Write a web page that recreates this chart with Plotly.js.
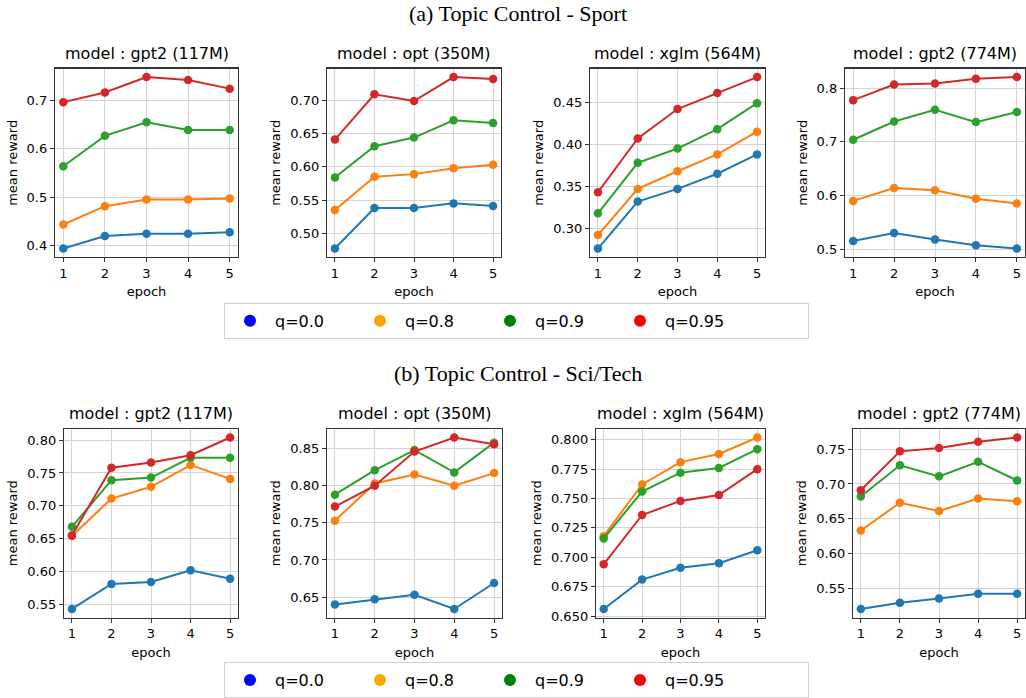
<!DOCTYPE html>
<html>
<head>
<meta charset="utf-8">
<script src="https://cdn.plot.ly/plotly-3.0.1.min.js"></script>
<style>html,body{margin:0;padding:0;background:#fff;}#chart{width:1026px;height:698px;}</style>
</head>
<body>
<div id="chart"></div>
<script>
// ---------- data ----------
const epochs = [1, 2, 3, 4, 5];
const qLabels = ['q=0.0', 'q=0.8', 'q=0.9', 'q=0.95'];
const lineColors = ['#1f77b4', '#ff7f0e', '#2ca02c', '#d62728'];
const legendColors = ['blue', 'orange', 'green', 'red'];
const modelTitles = ['model : gpt2 (117M)', 'model : opt (350M)', 'model : xglm (564M)', 'model : gpt2 (774M)'];
const sectionTitles = ['(a) Topic Control - Sport', '(b) Topic Control - Sci/Tech'];
const xLabel = 'epoch';
const yLabel = 'mean reward';

// (a) Sport — rows: q=0.0, q=0.8, q=0.9, q=0.95
const sportGpt2Small = [
  [0.393, 0.419, 0.424, 0.424, 0.427],
  [0.443, 0.481, 0.495, 0.495, 0.497],
  [0.564, 0.627, 0.655, 0.639, 0.639],
  [0.697, 0.717, 0.749, 0.743, 0.725]
];
const sportOpt = [
  [0.477, 0.538, 0.538, 0.545, 0.541],
  [0.535, 0.585, 0.589, 0.598, 0.603],
  [0.584, 0.631, 0.644, 0.670, 0.666],
  [0.641, 0.709, 0.699, 0.735, 0.732]
];
const sportXglm = [
  [0.276, 0.332, 0.347, 0.365, 0.388],
  [0.292, 0.347, 0.368, 0.388, 0.415],
  [0.318, 0.378, 0.395, 0.418, 0.449],
  [0.343, 0.407, 0.442, 0.461, 0.480]
];
const sportGpt2Large = [
  [0.515, 0.530, 0.518, 0.507, 0.501],
  [0.590, 0.614, 0.610, 0.594, 0.585],
  [0.704, 0.738, 0.760, 0.737, 0.756],
  [0.778, 0.807, 0.809, 0.818, 0.821]
];
// (b) Sci/Tech
const sciGpt2Small = [
  [0.543, 0.581, 0.584, 0.602, 0.589],
  [0.654, 0.711, 0.729, 0.762, 0.741],
  [0.668, 0.739, 0.743, 0.773, 0.773],
  [0.655, 0.758, 0.766, 0.777, 0.804]
];
const sciOpt = [
  [0.640, 0.647, 0.653, 0.634, 0.669],
  [0.753, 0.803, 0.815, 0.800, 0.817],
  [0.788, 0.821, 0.848, 0.818, 0.858],
  [0.772, 0.800, 0.846, 0.865, 0.856]
];
const sciXglm = [
  [0.656, 0.681, 0.691, 0.695, 0.706],
  [0.718, 0.762, 0.781, 0.788, 0.802],
  [0.716, 0.756, 0.772, 0.776, 0.792],
  [0.694, 0.736, 0.748, 0.753, 0.775]
];
const sciGpt2Large = [
  [0.520, 0.529, 0.535, 0.542, 0.542],
  [0.633, 0.673, 0.661, 0.679, 0.675],
  [0.682, 0.727, 0.711, 0.732, 0.705],
  [0.691, 0.747, 0.752, 0.761, 0.767]
];

const panelData = [sportGpt2Small, sportOpt, sportXglm, sportGpt2Large,
                   sciGpt2Small, sciOpt, sciXglm, sciGpt2Large];

// ---------- layout settings (pixels) ----------
const W = 1026, H = 698;
const panelX = [[55, 238], [327, 501], [590, 765], [845, 1025],
                [64, 238], [327, 502], [596, 765], [853, 1025]];
const rowY = [[69, 259], [432, 622]];
const dticks = [0.1, 0.05, 0.05, 0.1, 0.05, 0.05, 0.025, 0.05];
const tfmts = ['.1f', '.2f', '.2f', '.1f', '.2f', '.2f', '.3f', '.2f'];

const px = v => v / W;
const py = v => 1 - v / H;

const traces = [];
const layout = {
  width: W, height: H,
  margin: {l: 0, r: 0, t: 0, b: 0},
  paper_bgcolor: '#fff', plot_bgcolor: '#fff',
  font: {family: 'DejaVu Sans', size: 13, color: '#000'},
  showlegend: true,
  annotations: [],
  hovermode: false
};

panelData.forEach((series, p) => {
  const row = p < 4 ? 0 : 1;
  const ax = p + 1;
  const xa = 'x' + (ax === 1 ? '' : ax);
  const ya = 'y' + (ax === 1 ? '' : ax);
  const all = series.flat();
  const mn = Math.min(...all), mx = Math.max(...all);
  const pad = (mx - mn) * 0.05;
  series.forEach((vals, i) => {
    traces.push({
      x: epochs, y: vals, xaxis: xa, yaxis: ya,
      type: 'scatter', mode: 'lines+markers',
      line: {color: lineColors[i], width: 2},
      marker: {color: lineColors[i], size: 8.5},
      showlegend: false, name: qLabels[i]
    });
  });
  const common = {
    showline: true, mirror: true, linecolor: '#333', linewidth: 1.2,
    ticks: 'outside', ticklen: 4, tickcolor: '#333', tickwidth: 1,
    showgrid: true, gridcolor: '#d4d4d4', gridwidth: 1,
    zeroline: false,
    tickfont: {family: 'DejaVu Sans', size: 13, color: '#000'}
  };
  layout['xaxis' + (ax === 1 ? '' : ax)] = Object.assign({}, common, {
    domain: [px(panelX[p][0]), px(panelX[p][1])],
    anchor: ya, range: [0.8, 5.2], tickmode: 'array', tickvals: epochs,
    ticktext: epochs.map(String),
    title: {text: xLabel, font: {size: 13, family: 'DejaVu Sans'}, standoff: 7}
  });
  layout['yaxis' + (ax === 1 ? '' : ax)] = Object.assign({}, common, {
    domain: [py(rowY[row][1]), py(rowY[row][0])],
    anchor: xa, range: [mn - pad, mx + pad],
    tick0: 0, dtick: dticks[p], tickformat: tfmts[p],
    title: {text: yLabel, font: {size: 13, family: 'DejaVu Sans'}, standoff: 6}
  });
  layout.annotations.push({
    text: modelTitles[p % 4], xref: 'paper', yref: 'paper',
    x: px((panelX[p][0] + panelX[p][1]) / 2), y: py(rowY[row][0] - 4),
    xanchor: 'center', yanchor: 'bottom', showarrow: false,
    font: {family: 'DejaVu Sans', size: 16, color: '#000'}
  });
});

// section titles
[[sectionTitles[0], 14], [sectionTitles[1], 376]].forEach(([t, y]) => {
  layout.annotations.push({
    text: t, xref: 'paper', yref: 'paper', x: px(518), y: py(y),
    xanchor: 'center', yanchor: 'middle', showarrow: false,
    font: {family: 'Liberation Serif', size: 22, color: '#000'}
  });
});

// legends (one per row)
const legendStyle = {
  orientation: 'h', xanchor: 'left', yanchor: 'top',
  bgcolor: '#fff', bordercolor: '#d0d0d0', borderwidth: 1,
  font: {family: 'DejaVu Sans', size: 16, color: '#000'},
  itemwidth: 40,
  entrywidth: 75, entrywidthmode: 'pixels', itemclick: false, itemdoubleclick: false
};
layout.legend = Object.assign({}, legendStyle, {x: px(224), y: py(305)});
layout.legend2 = Object.assign({}, legendStyle, {x: px(224), y: py(667)});
['legend', 'legend2'].forEach((lg, r) => {
  qLabels.forEach((q, i) => {
    const tr = {
      x: [null], y: [null], xaxis: r === 0 ? 'x' : 'x5', yaxis: r === 0 ? 'y' : 'y5',
      type: 'scatter', mode: 'markers', name: q, legend: lg,
      marker: {color: legendColors[i], size: 12}, showlegend: true
    };
    if (i === qLabels.length - 1) tr.legendwidth = 138;
    traces.push(tr);
  });
});

Plotly.newPlot('chart', traces, layout, {displayModeBar: false, staticPlot: true});
</script>
</body>
</html>
